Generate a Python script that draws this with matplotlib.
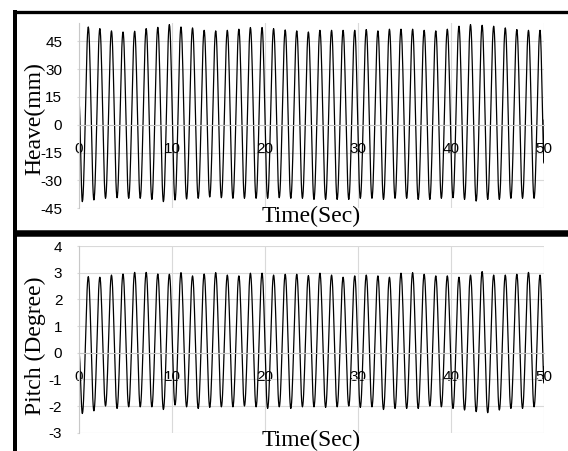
import numpy as np
import matplotlib
matplotlib.use('Agg')
import matplotlib.pyplot as plt
from matplotlib.lines import Line2D

plt.rcParams['axes.unicode_minus'] = False

# crest / trough times of the motion record (s)
peak_t = [1.00, 2.24, 3.49, 4.73, 5.98, 7.22, 8.47, 9.71, 10.96, 12.20,
          13.45, 14.69, 15.94, 17.18, 18.42, 19.67, 20.91, 22.16, 23.40, 24.65,
          25.89, 27.14, 28.38, 29.63, 30.87, 32.12, 33.36, 34.60, 35.85, 37.09,
          38.34, 39.58, 40.83, 42.07, 43.32, 44.56, 45.81, 47.05, 48.30, 49.54]
trough_t = [0.36, 1.60, 2.85, 4.09, 5.34, 6.58, 7.83, 9.07, 10.32, 11.56,
            12.81, 14.05, 15.30, 16.54, 17.78, 19.03, 20.27, 21.52, 22.76, 24.01,
            25.25, 26.50, 27.74, 28.99, 30.23, 31.48, 32.72, 33.96, 35.21, 36.45,
            37.70, 38.94, 40.19, 41.43, 42.68, 43.92, 45.17, 46.41, 47.66, 48.90]

# heave (mm)
heave_peak = [52.7, 51.8, 50.6, 50.0, 50.4, 51.8, 52.5, 54.0, 52.7, 52.2,
              50.9, 50.6, 50.9, 51.5, 52.4, 52.4, 51.8, 51.1, 50.6, 50.0,
              50.9, 50.9, 50.9, 50.9, 51.3, 50.6, 51.5, 51.5, 51.5, 50.9,
              50.6, 51.5, 53.1, 54.0, 53.6, 53.1, 52.2, 51.3, 50.9, 50.9]
heave_trough = [-41.4, -40.5, -39.6, -39.3, -39.6, -39.6, -40.2, -41.4, -40.5, -40.0,
                -39.6, -38.9, -39.3, -39.6, -39.6, -39.6, -39.6, -39.3, -39.6, -39.6,
                -40.2, -40.2, -40.2, -40.2, -39.6, -39.6, -40.2, -39.6, -39.6, -40.2,
                -40.2, -39.6, -39.3, -40.2, -41.1, -40.2, -40.2, -39.6, -39.6, -39.6]
heave_start = [27.5, 12.0]
heave_end = [-20.8, 2.5]

# pitch (degree)
pitch_peak = [2.85, 2.83, 2.91, 2.95, 3.01, 3.01, 2.95, 2.94, 3.00, 2.88,
              2.95, 3.00, 2.91, 2.88, 2.98, 2.98, 2.91, 2.94, 2.94, 2.89,
              2.98, 2.91, 2.83, 2.88, 2.91, 2.88, 2.83, 2.98, 3.00, 2.94,
              2.88, 2.88, 2.83, 2.91, 3.04, 2.91, 2.91, 2.94, 3.01, 2.91]
pitch_trough = [-2.28, -2.18, -2.00, -2.09, -2.03, -2.03, -2.03, -2.13, -1.96, -2.03,
                -2.09, -2.05, -2.03, -2.03, -2.00, -2.03, -2.09, -2.03, -2.09, -2.03,
                -2.03, -2.05, -2.03, -2.00, -2.05, -2.03, -2.13, -2.09, -2.09, -2.09,
                -2.00, -2.03, -2.09, -2.15, -2.21, -2.25, -2.15, -2.09, -2.09, -2.03]
pitch_start = [0.79, -0.02]
pitch_end = [-1.15, -0.53]

t_start = 0.0
t_end = 50.0


def trace(start, peaks, troughs, end):
    """Join the record's turning points with half-cosine swings."""
    t = [t_start, t_start]
    v = list(start)
    for tt, tv, pt, pv in zip(trough_t, troughs, peak_t, peaks):
        t += [tt, pt]
        v += [tv, pv]
    t += [t_end, t_end]
    v += list(end)
    xs, ys = [t[0]], [v[0]]
    u = np.linspace(0, 1, 16)[1:]
    s = (1 - np.cos(np.pi * u)) / 2
    for i in range(len(t) - 1):
        xs.extend(t[i] + (t[i + 1] - t[i]) * u)
        ys.extend(v[i] + (v[i + 1] - v[i]) * s)
    return np.array(xs), np.array(ys)


W, H = 568, 451
fig = plt.figure(figsize=(W / 100, H / 100), dpi=100)

tick_font = {'family': 'Liberation Sans', 'size': 11}
label_font = {'family': 'Liberation Serif', 'size': 17}
grid_c = '#d9d9d9'


def setup(ax, ylim, yticks):
    ax.set_xlim(0, 50)
    ax.set_ylim(*ylim)
    ax.set_xticks(range(0, 51, 10))
    ax.set_yticks(yticks)
    ax.set_axisbelow(True)
    ax.grid(True, color=grid_c, lw=0.8)
    for side in ('top', 'right'):
        ax.spines[side].set_visible(False)
    ax.spines['bottom'].set_position(('data', 0))
    for side in ('left', 'bottom'):
        ax.spines[side].set_color('#c8c8c8')
        ax.spines[side].set_linewidth(0.8)
    ax.tick_params(axis='x', length=0, pad=12.5)
    ax.tick_params(axis='y', length=1.5, color=grid_c, pad=10.5)
    for lab in ax.get_xticklabels() + ax.get_yticklabels():
        lab.set_fontfamily(tick_font['family'])
        lab.set_fontsize(tick_font['size'])
    ax.set_facecolor('none')


# Heave panel
ax1 = fig.add_axes([79 / W, 1 - 208.3 / H, 465.3 / W, 185.6 / H])
x, y = trace(heave_start, heave_peak, heave_trough, heave_end)
ax1.plot(x, y, color='black', lw=0.9)
setup(ax1, (-45, 55), range(-45, 46, 15))

# Pitch panel
ax2 = fig.add_axes([79 / W, 1 - 432.7 / H, 465.3 / W, 186.7 / H])
x, y = trace(pitch_start, pitch_peak, pitch_trough, pitch_end)
ax2.plot(x, y, color='black', lw=0.9)
setup(ax2, (-3, 4), range(-3, 5))

fig.text(35 / W, 1 - 119 / H, 'Heave(mm)', rotation=90, ha='center', va='center', **label_font)
fig.text(35 / W, 1 - 346 / H, 'Pitch (Degree)', rotation=90, ha='center', va='center', **label_font)
fig.text(311 / W, 1 - 222.3 / H, 'Time(Sec)', ha='center', va='baseline', **label_font)
fig.text(311 / W, 1 - 446.5 / H, 'Time(Sec)', ha='center', va='baseline', **label_font)

# panel frames
def frame(x0, y0, x1, y1, width_px):
    fig.add_artist(Line2D([x0 / W, x1 / W], [1 - y0 / H, 1 - y1 / H],
                          transform=fig.transFigure, color='black',
                          lw=width_px * 0.72, solid_capstyle='butt'))


frame(12.7, 11.7, W, 11.7, 3.3)
frame(14.7, 10, 14.7, H, 4)
frame(12.7, 233.5, W, 233.5, 6.5)

fig.savefig('out.png', dpi=100)
